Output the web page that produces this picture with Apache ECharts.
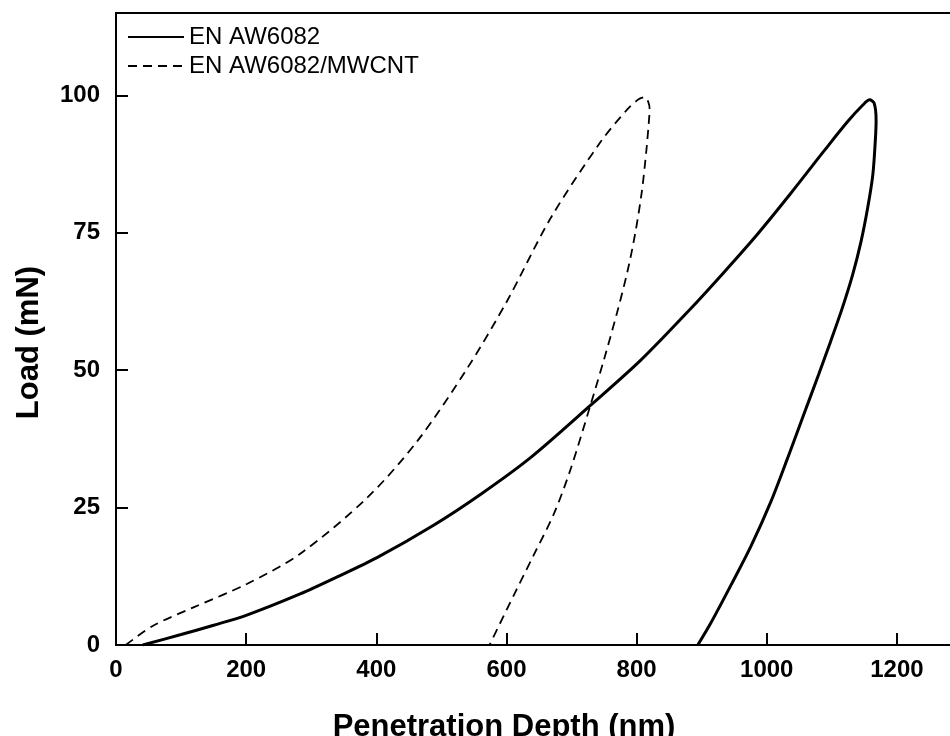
<!DOCTYPE html>
<html>
<head>
<meta charset="utf-8">
<script src="https://cdn.jsdelivr.net/npm/echarts@6/dist/echarts.min.js"></script>
<style>
html, body { margin: 0; padding: 0; background: #fff; }
#main { width: 950px; height: 736px; }
</style>
</head>
<body>
<div id="main"></div>
<script>
// values: depth (nm), load (mN), loading then unloading
var alloyDepth = [41, 100, 150, 200, 283, 340, 401, 488, 560, 637, 729, 806, 883, 934, 986, 1037, 1088, 1124, 1148, 1158, 1165, 1168, 1167, 1163, 1155, 1145, 1132, 1116, 1098, 1080, 1057, 1032, 1006, 975, 945, 914, 894];
var alloyLoad  = [0, 1.9, 3.6, 5.4, 9.3, 12.4, 15.9, 21.8, 27.4, 34.1, 43.6, 51.8, 61.2, 67.8, 74.8, 82.2, 89.9, 95.2, 98.3, 99.2, 98.6, 95.5, 92.2, 85.6, 79.5, 73.5, 67.4, 61.3, 55.2, 49.3, 42.0, 34.0, 26.0, 17.8, 10.9, 4.0, 0];

var compDepth = [15, 57, 120, 201, 283, 386, 463, 540, 601, 668, 745, 786, 803, 812, 818, 820, 819, 815, 808, 798, 786, 770, 750, 729, 698, 673, 642, 611, 574];
var compLoad  = [0, 3.5, 6.9, 11.1, 16.6, 26.8, 37.1, 50.4, 62.6, 77.7, 91.6, 97.5, 99.3, 99.7, 98.8, 97.5, 95.5, 90, 82.5, 75, 68, 60.5, 52, 43.6, 31.8, 23.9, 16.4, 9.0, 0];

var seriesNames = ['EN AW6082', 'EN AW6082/MWCNT'];
var xTicks = [0, 200, 400, 600, 800, 1000, 1200];
var yTicks = [0, 25, 50, 75, 100];

function zip(a, b) {
    return a.map(function (v, i) { return [v, b[i]]; });
}

var font = '"Liberation Sans", Arial, Helvetica, sans-serif';
var chart = echarts.init(document.getElementById('main'));

var option = {
    animation: false,
    backgroundColor: '#fff',
    textStyle: { fontFamily: font, color: '#000' },
    grid: {
        left: 116,
        top: 13,
        width: 846,
        bottom: 91,
        outerBoundsMode: 'none',
        show: true,
        borderColor: '#000',
        borderWidth: 2
    },
    legend: {
        orient: 'vertical',
        left: 127,
        top: 25,
        padding: 0,
        itemWidth: 56,
        itemHeight: 14,
        itemGap: 5,
        itemStyle: { opacity: 0 },
        textStyle: { fontFamily: font, fontSize: 24, color: '#000' },
        data: seriesNames
    },
    xAxis: {
        type: 'value',
        min: 0,
        max: 1300,
        interval: 200,
        name: 'Penetration Depth (nm)',
        nameLocation: 'middle',
        nameGap: 67,
        nameTextStyle: { fontFamily: font, fontSize: 31, fontWeight: 'bold', color: '#000', padding: [0, 70, 0, 0] },
        axisLine: { onZero: false, lineStyle: { color: '#000', width: 2 } },
        axisTick: { inside: true, length: 12, lineStyle: { color: '#000', width: 2 } },
        axisLabel: {
            margin: 13,
            fontSize: 24,
            fontWeight: 'bold',
            color: '#000',
            showMaxLabel: false,
            formatter: function (v) { return xTicks.indexOf(v) >= 0 ? String(v) : ''; }
        },
        splitLine: { show: false }
    },
    yAxis: {
        type: 'value',
        min: 0,
        max: 115,
        interval: 25,
        name: 'Load (mN)',
        nameLocation: 'middle',
        nameGap: 71,
        nameTextStyle: { fontFamily: font, fontSize: 31, fontWeight: 'bold', color: '#000', padding: [0, 27, 0, 0] },
        axisLine: { onZero: false, lineStyle: { color: '#000', width: 2 } },
        axisTick: { inside: true, length: 12, lineStyle: { color: '#000', width: 2 } },
        axisLabel: {
            margin: 16,
            fontSize: 24,
            fontWeight: 'bold',
            color: '#000',
            showMaxLabel: false,
            formatter: function (v) { return yTicks.indexOf(v) >= 0 ? String(v) : ''; }
        },
        splitLine: { show: false }
    },
    series: [
        {
            name: seriesNames[0],
            type: 'line',
            data: zip(alloyDepth, alloyLoad),
            symbol: 'none',
            smooth: 0.3,
            lineStyle: { color: '#000', width: 3 },
            itemStyle: { color: '#000' }
        },
        {
            name: seriesNames[1],
            type: 'line',
            data: zip(compDepth, compLoad),
            symbol: 'none',
            smooth: 0.3,
            lineStyle: { color: '#000', width: 1.8, type: [9, 6] },
            itemStyle: { color: '#000' }
        }
    ]
};

chart.setOption(option);
</script>
</body>
</html>
